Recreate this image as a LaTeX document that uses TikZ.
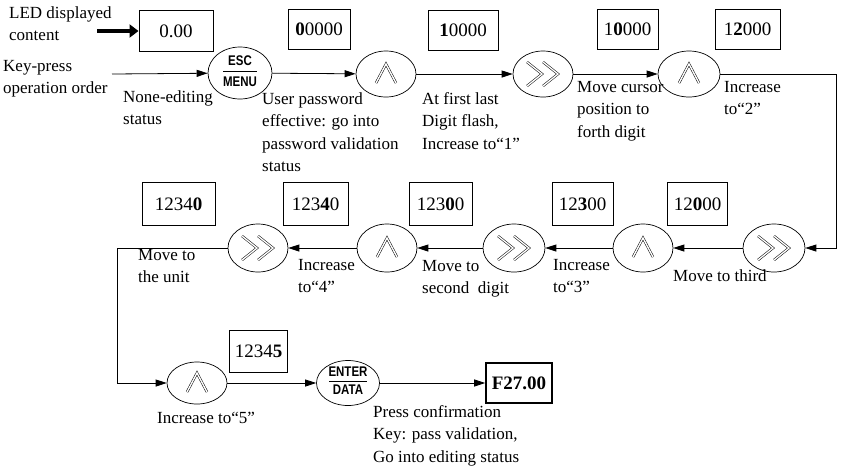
\documentclass[tikz,border=0pt]{standalone}
\usepackage{fontspec}
\setmainfont{Liberation Serif}
\newfontfamily\keyfont[FakeStretch=0.82]{Liberation Sans}
\usetikzlibrary{arrows.meta,shapes.geometric}
\tikzset{
  conn/.style={draw, line width=0.8pt, -{Triangle[length=11pt,width=7pt]}},
  thickarrow/.style={draw, line width=4.5pt, -{Triangle[length=9pt,width=13pt]}},
  disp/.style={draw, line width=1pt, minimum height=40pt, inner sep=0pt, font=\fontsize{19}{22}\selectfont},
  keyell/.style={draw, ellipse, line width=0.7pt, minimum width=60pt, minimum height=46pt, inner sep=0pt},
  lbl/.style={anchor=north west, align=left, inner sep=0pt, font=\fontsize{17}{22.5}\selectfont},
  chev/.style={draw, double, line width=0.5pt, double distance=1.4pt, line join=miter},
  keytxt/.style={inner sep=0pt, font=\keyfont\bfseries\fontsize{14}{14}\selectfont},
  keyrule/.style={draw, line width=0.9pt},
}
\newcommand{\upkey}[1]{\draw[chev] ([shift={(-10,9)}]#1.center) -- ([shift={(0,-10)}]#1.center) -- ([shift={(10,9)}]#1.center);}
\newcommand{\rightkey}[1]{\draw[chev] ([shift={(-16,-12)}]#1.center) -- ([shift={(-1,0)}]#1.center) -- ([shift={(-16,12)}]#1.center);
  \draw[chev] ([shift={(0,-12)}]#1.center) -- ([shift={(15,0)}]#1.center) -- ([shift={(0,12)}]#1.center);}
\begin{document}
\begin{tikzpicture}[x=1pt,y=-1pt]
\useasboundingbox (0,0) rectangle (841,467);

% ---- top row
\node[lbl] (led) at (9,6) {LED displayed\\content};
\node[lbl] (kp) at (3,60) {Key-press\\operation order};
\coordinate (ledstart) at (97,31);
\coordinate (kpstart) at (112,74);

\node[disp, minimum width=74pt, minimum height=41pt] (b0) at (176,31) {0.00};
\node[disp, minimum width=62pt] (b1) at (319,29) {\textbf{0}0000};
\node[disp, minimum width=70pt] (b2) at (463,30) {\textbf{1}0000};
\node[disp, minimum width=61pt] (b3) at (627.5,29) {1\textbf{0}000};
\node[disp, minimum width=65pt] (b4) at (747.5,29) {1\textbf{2}000};

\node[keyell, minimum width=64pt, minimum height=52pt] (esc) at (240,73) {};
\node[keyell] (u1) at (386,74) {};
\node[keyell] (f1) at (543,74) {};
\node[keyell, minimum width=62pt] (u2) at (689,74) {};

\node[keytxt] (esct) at ([shift={(0,-12)}]esc.center) {ESC};
\node[keytxt] (escb) at ([shift={(0,9)}]esc.center) {MENU};
\draw[keyrule] ([shift={(-17,-2)}]esc.center) -- ([shift={(17,-2)}]esc.center);
\upkey{u1}
\rightkey{f1}
\upkey{u2}

\node[lbl] (l1) at (123,90) {None-editing\\status};
\node[lbl] (l2) at (262,92) {User password\\effective: go into\\password validation\\status};
\node[lbl] (l3) at (422,92) {At first last\\Digit flash,\\Increase to“1”};
\node[lbl] (l4) at (577,81) {Move cursor\\position to\\forth digit};
\node[lbl] (l5) at (724,81) {Increase\\to“2”};

% ---- middle row
\node[disp, minimum width=60pt, minimum height=43pt] (b5) at (697.5,204) {12\textbf{0}00};
\node[disp, minimum width=61pt, minimum height=43pt] (b6) at (582.5,204) {12\textbf{3}00};
\node[disp, minimum width=63pt, minimum height=43pt] (b7) at (440.5,204) {123\textbf{0}0};
\node[disp, minimum width=65pt, minimum height=43pt] (b8) at (315.5,204) {123\textbf{4}0};
\node[disp, minimum width=73pt, minimum height=43pt] (b9) at (178.5,204) {1234\textbf{0}};

\node[keyell, minimum width=62pt, minimum height=48pt] (f2) at (774,248) {};
\node[keyell, minimum height=48pt] (u3) at (643,248) {};
\node[keyell, minimum width=62pt, minimum height=48pt] (f3) at (514,248) {};
\node[keyell, minimum height=48pt] (u4) at (387,248) {};
\node[keyell, minimum height=48pt] (f4) at (258,248) {};
\rightkey{f2}
\upkey{u3}
\rightkey{f3}
\upkey{u4}
\rightkey{f4}

\node[lbl] (l6) at (138,249) {Move to\\the unit};
\node[lbl] (l7) at (298,259) {Increase\\to“4”};
\node[lbl] (l8) at (422,260) {Move to\\second\ \ digit};
\node[lbl] (l9) at (553,259) {Increase\\to“3”};
\node[lbl] (l10) at (673,269) {Move to third};

% ---- bottom row
\node[disp, minimum width=58pt, minimum height=42pt] (b10) at (258.5,351) {1234\textbf{5}};
\node[disp, line width=1.6pt, minimum width=66pt] (b11) at (519,383) {\textbf{F27.00}};
\node[keyell, minimum height=42pt] (u5) at (197,383) {};
\node[keyell, minimum width=63pt, minimum height=45pt] (ent) at (348,383) {};
\upkey{u5}
\node[keytxt] (entt) at ([shift={(0,-11)}]ent.center) {ENTER};
\node[keytxt] (entb) at ([shift={(0,7)}]ent.center) {DATA};
\draw[keyrule] ([shift={(-19,-2)}]ent.center) -- ([shift={(19,-2)}]ent.center);

\node[lbl] (l11) at (157,412) {Increase to“5”};
\node[lbl] (l12) at (373,405) {Press confirmation\\Key: pass validation,\\Go into editing status};

% ---- connectors
\coordinate (rx) at (836,0);
\coordinate (lx) at (117,0);
\draw[thickarrow] (ledstart) -- (b0.west);
\draw[conn] (kpstart) -- (esc);
\draw[conn] (esc) -- (u1);
\draw[conn] (u1) -- (f1);
\draw[conn] (f1) -- (u2);
\draw[conn] (u2) -- (u2 -| rx) |- (f2);
\draw[conn] (f2) -- (u3);
\draw[conn] (u3) -- (f3);
\draw[conn] (f3) -- (u4);
\draw[conn] (u4) -- (f4);
\draw[conn] (f4) -- (f4 -| lx) |- (u5);
\draw[conn] (u5) -- (ent);
\draw[conn] (ent) -- (b11);
\end{tikzpicture}
\end{document}
